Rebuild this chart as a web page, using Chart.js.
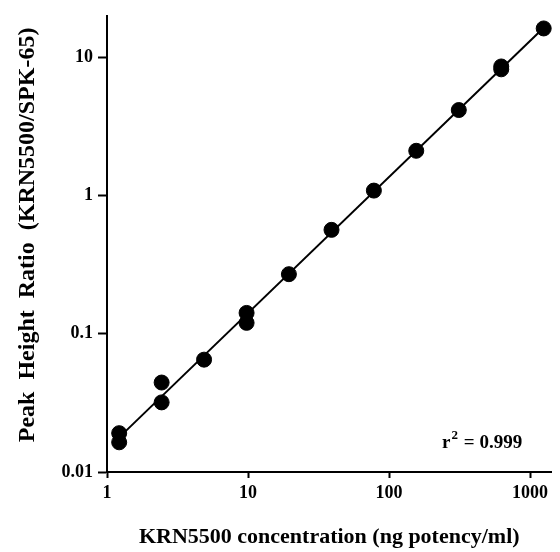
<!DOCTYPE html>
<html>
<head>
  <meta charset="UTF-8" />
  <title>KRN5500 calibration</title>
  <script src="https://cdn.jsdelivr.net/npm/chart.js@4.4.0/dist/chart.umd.min.js"></script>
  <style>
    html,body{margin:0;padding:0;background:#fff}
    #wrap{width:560px;height:552px;position:relative}
  </style>
</head>
<body>
  <div id="wrap"><canvas id="calChart" width="560" height="552"></canvas></div>
  <script>
    // concentrations (ng potency/ml), replicate pairs
    const conc  = [1.22, 1.22, 2.44, 2.44, 4.88, 9.77, 9.77, 19.5, 39.1, 78.1, 156, 312.5, 625, 625, 1250];
    const ratio = [0.0191, 0.0164, 0.0444, 0.0319, 0.065, 0.1416, 0.12, 0.27, 0.565, 1.087, 2.11, 4.16, 8.2, 8.6, 16.2];
    // fitted regression line end points
    const fitX = [1.22, 1250];
    const fitY = [0.0178, 16.4];
    const xTicks = [1, 10, 100, 1000];
    const yTicks = [0.01, 0.1, 1, 10];
    const rLabel = ['r', '2', ' = 0.999'];

    const serif = '"Liberation Serif","DejaVu Serif",serif';

    const r2Plugin = {
      id: 'r2',
      afterDatasetsDraw(chart){
        const ctx = chart.ctx;
        const x = chart.scales.x.getPixelForValue(238);
        const y = chart.scales.y.getPixelForValue(0.0165);
        ctx.save();
        ctx.fillStyle = '#000';
        ctx.textBaseline = 'alphabetic';
        ctx.font = 'bold 19px ' + serif;
        ctx.fillText(rLabel[0], x, y + 6);
        let w = ctx.measureText(rLabel[0]).width;
        ctx.font = 'bold 13px ' + serif;
        ctx.fillText(rLabel[1], x + w + 1, y - 3);
        w += ctx.measureText(rLabel[1]).width + 1;
        ctx.font = 'bold 19px ' + serif;
        ctx.fillText(rLabel[2], x + w + 1, y + 6);
        ctx.restore();
      }
    };

    const ctx = document.getElementById('calChart').getContext('2d');
    new Chart(ctx, {
      data: {
        datasets: [
          {
            type: 'scatter',
            data: conc.map((c, i) => ({x: c, y: ratio[i]})),
            backgroundColor: '#000',
            borderColor: '#000',
            pointRadius: 7.5,
            pointHoverRadius: 7.5,
            clip: false
          },
          {
            type: 'line',
            data: fitX.map((c, i) => ({x: c, y: fitY[i]})),
            borderColor: '#000',
            borderWidth: 2,
            pointRadius: 0,
            fill: false
          }
        ]
      },
      options: {
        responsive: false,
        animation: false,
        layout: {padding: {top: 14, right: 2, left: 0, bottom: 0}},
        plugins: {legend: {display: false}, tooltip: {enabled: false}},
        scales: {
          x: {
            type: 'logarithmic',
            min: 1,
            max: 1420,
            afterBuildTicks(s){ s.ticks = xTicks.map(v => ({value: v})); },
            afterFit(s){ s.height = 80; },
            border: {color: '#000', width: 2},
            grid: {drawOnChartArea: false, tickLength: 6, tickColor: '#000', tickWidth: 2},
            ticks: {
              color: '#000', padding: 5, maxRotation: 0, autoSkip: false,
              font: {family: serif, size: 18, weight: 'bold'},
              callback: v => String(v)
            },
            title: {
              display: true,
              text: 'KRN5500 concentration (ng potency/ml)',
              color: '#000',
              padding: {top: 0, bottom: 1},
              font: {family: serif, size: 22, weight: 'bold'}
            }
          },
          y: {
            type: 'logarithmic',
            min: 0.01,
            max: 20,
            afterBuildTicks(s){ s.ticks = yTicks.map(v => ({value: v})); },
            afterFit(s){ s.width = 107; },
            border: {color: '#000', width: 2},
            grid: {drawOnChartArea: false, tickLength: 9, tickColor: '#000', tickWidth: 2},
            ticks: {
              color: '#000', padding: 5, autoSkip: false,
              font: {family: serif, size: 18, weight: 'bold'},
              callback: v => String(v)
            },
            title: {
              display: true,
              // leading spaces nudge the centred title upward
              text: '   Peak  Height  Ratio  (KRN5500/SPK-65)',
              color: '#000',
              padding: {top: 13, bottom: 0},
              font: {family: serif, size: 24, weight: 'bold'}
            }
          }
        }
      },
      plugins: [r2Plugin]
    });
  </script>
</body>
</html>
